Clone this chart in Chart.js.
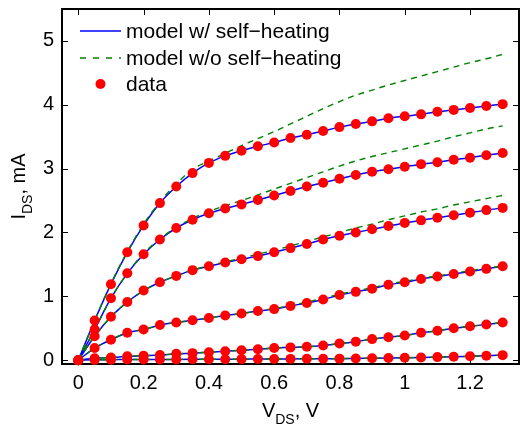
<!DOCTYPE html>
<html>
<head>
<meta charset="utf-8">
<script src="https://cdn.jsdelivr.net/npm/chart.js@4.4.1/dist/chart.umd.min.js"></script>
<style>
  html, body { margin: 0; padding: 0; background: #fff; overflow: hidden; }
  #wrap { width: 524px; height: 431px; }
</style>
</head>
<body>
<div id="wrap"><canvas id="ivChart" width="524" height="431"></canvas></div>
<script>
// Drain voltage sweep (V)
const vds = [0, 0.05, 0.1, 0.15, 0.2, 0.25, 0.3, 0.35, 0.4, 0.45, 0.5, 0.55, 0.6, 0.65,
             0.7, 0.75, 0.8, 0.85, 0.9, 0.95, 1.0, 1.05, 1.1, 1.15, 1.2, 1.25, 1.3];

// Measured drain current (mA), one array per gate bias, highest first
const meas1 = [0, 0.62, 1.19, 1.69, 2.11, 2.46, 2.72, 2.93, 3.09, 3.20, 3.28, 3.35, 3.41, 3.48,
               3.53, 3.59, 3.65, 3.70, 3.74, 3.79, 3.82, 3.85, 3.89, 3.92, 3.95, 3.98, 4.01];
const meas2 = [0, 0.48, 0.97, 1.36, 1.66, 1.89, 2.07, 2.20, 2.30, 2.375, 2.44, 2.51, 2.58, 2.65,
               2.72, 2.78, 2.84, 2.90, 2.95, 2.99, 3.03, 3.07, 3.10, 3.14, 3.17, 3.21, 3.245];
const meas3 = [0, 0.375, 0.68, 0.91, 1.09, 1.22, 1.32, 1.41, 1.47, 1.53, 1.58, 1.63, 1.69, 1.755,
               1.82, 1.89, 1.95, 2.00, 2.05, 2.10, 2.15, 2.19, 2.23, 2.27, 2.31, 2.35, 2.385];
const meas4 = [0, 0.19, 0.32, 0.43, 0.48, 0.55, 0.59, 0.625, 0.66, 0.70, 0.73, 0.77, 0.80, 0.85,
               0.895, 0.95, 1.02, 1.07, 1.12, 1.18, 1.22, 1.27, 1.31, 1.35, 1.39, 1.43, 1.47];
const meas5 = [0, 0.03, 0.04, 0.06, 0.07, 0.08, 0.10, 0.11, 0.125, 0.14, 0.155, 0.17, 0.19, 0.20,
               0.21, 0.23, 0.26, 0.29, 0.33, 0.36, 0.385, 0.43, 0.46, 0.50, 0.53, 0.56, 0.59];
const meas6 = [0, 0.005, 0.008, 0.01, 0.01, 0.011, 0.012, 0.013, 0.014, 0.015, 0.016, 0.017, 0.018, 0.02,
               0.021, 0.022, 0.024, 0.027, 0.03, 0.033, 0.037, 0.042, 0.048, 0.054, 0.062, 0.07, 0.079];

// Model with self-heating (follows the measurements)
const withSH = [meas1, meas2, meas3, meas4, meas5, meas6];

// Model without self-heating
const noSH1 = [0, 0.62, 1.20, 1.70, 2.13, 2.48, 2.76, 2.99, 3.12, 3.24, 3.36, 3.47, 3.58, 3.70,
               3.82, 3.94, 4.05, 4.15, 4.23, 4.31, 4.38, 4.45, 4.52, 4.59, 4.66, 4.72, 4.79];
const noSH2 = [0, 0.48, 0.97, 1.36, 1.67, 1.90, 2.08, 2.22, 2.33, 2.42, 2.50, 2.59, 2.68, 2.77,
               2.86, 2.95, 3.04, 3.12, 3.19, 3.25, 3.31, 3.37, 3.43, 3.50, 3.56, 3.62, 3.67];
const noSH3 = [0, 0.375, 0.68, 0.91, 1.09, 1.22, 1.32, 1.41, 1.48, 1.54, 1.60, 1.66, 1.72, 1.79,
               1.86, 1.93, 2.00, 2.07, 2.13, 2.20, 2.26, 2.32, 2.37, 2.43, 2.48, 2.53, 2.58];
const noSH4 = [0, 0.19, 0.32, 0.43, 0.48, 0.55, 0.59, 0.625, 0.66, 0.70, 0.73, 0.77, 0.81, 0.855,
               0.91, 0.97, 1.035, 1.085, 1.135, 1.19, 1.235, 1.28, 1.32, 1.36, 1.40, 1.44, 1.475];
const noSH5 = [0, 0.03, 0.04, 0.06, 0.07, 0.08, 0.10, 0.11, 0.125, 0.14, 0.155, 0.17, 0.19, 0.20,
               0.21, 0.23, 0.26, 0.29, 0.33, 0.36, 0.385, 0.43, 0.46, 0.50, 0.53, 0.56, 0.59];
const noSH6 = [0, 0.005, 0.008, 0.01, 0.01, 0.011, 0.012, 0.013, 0.014, 0.015, 0.016, 0.017, 0.018, 0.02,
               0.021, 0.022, 0.024, 0.027, 0.03, 0.033, 0.037, 0.042, 0.048, 0.054, 0.062, 0.07, 0.079];
const withoutSH = [noSH1, noSH2, noSH3, noSH4, noSH5, noSH6];
const measured = [meas1, meas2, meas3, meas4, meas5, meas6];

// Axis ticks
const xTicks = [0, 0.2, 0.4, 0.6, 0.8, 1, 1.2];
const yTicks = [0, 1, 2, 3, 4, 5];

const legendItems = ['model w/ self\u2212heating', 'model w/o self\u2212heating', 'data'];

const FONT = '"Liberation Sans", Arial, Helvetica, sans-serif';
const blue = '#0000ff';
const green = '#008000';
const red = '#ff0000';

const toPts = arr => arr.map((v, i) => ({ x: vds[i], y: v }));

const datasets = [];
measured.forEach(arr => datasets.push({
  data: toPts(arr), showLine: false, pointRadius: 5, pointBackgroundColor: red,
  pointBorderWidth: 0, order: 0, clip: false
}));
withoutSH.forEach(arr => datasets.push({
  data: toPts(arr), showLine: true, borderColor: green, borderWidth: 1.4,
  borderDash: [6, 5], pointRadius: 0, order: 1, cubicInterpolationMode: 'monotone'
}));
withSH.forEach(arr => datasets.push({
  data: toPts(arr), showLine: true, borderColor: blue, borderWidth: 1.5,
  pointRadius: 0, order: 2, cubicInterpolationMode: 'monotone'
}));

// box, inward ticks, legend and titles with subscripts
const axesDecor = {
  id: 'axesDecor',
  beforeDatasetsDraw(chart) {
    const { ctx, chartArea: a, scales } = chart;
    const tl = 6;
    ctx.save();
    ctx.strokeStyle = '#000';
    ctx.lineWidth = 1;
    ctx.beginPath();
    xTicks.forEach(v => {
      const px = Math.round(scales.x.getPixelForValue(v)) + 0.5;
      ctx.moveTo(px, a.bottom); ctx.lineTo(px, a.bottom - tl);
      ctx.moveTo(px, a.top); ctx.lineTo(px, a.top + tl);
    });
    yTicks.forEach(v => {
      const py = Math.round(scales.y.getPixelForValue(v)) + 0.5;
      ctx.moveTo(a.left, py); ctx.lineTo(a.left + tl, py);
      ctx.moveTo(a.right, py); ctx.lineTo(a.right - tl, py);
    });
    ctx.stroke();
    ctx.lineWidth = 2;
    ctx.strokeRect(a.left, a.top, a.right - a.left, a.bottom - a.top);
    ctx.restore();
  },
  afterDraw(chart) {
    const { ctx, chartArea: a } = chart;
    ctx.save();
    ctx.fillStyle = '#000';

    // legend
    const lx0 = a.left + 18, lx1 = a.left + 59, tx = a.left + 64;
    const rows = [a.top + 22, a.top + 49, a.top + 75];
    ctx.lineWidth = 1.4;
    ctx.strokeStyle = blue;
    ctx.beginPath(); ctx.moveTo(lx0, rows[0]); ctx.lineTo(lx1, rows[0]); ctx.stroke();
    ctx.strokeStyle = green;
    ctx.setLineDash([6, 7]);
    ctx.beginPath(); ctx.moveTo(lx0, rows[1]); ctx.lineTo(lx1, rows[1]); ctx.stroke();
    ctx.setLineDash([]);
    ctx.fillStyle = red;
    ctx.beginPath(); ctx.arc((lx0 + lx1) / 2, rows[2], 5, 0, Math.PI * 2); ctx.fill();
    ctx.fillStyle = '#000';
    ctx.font = '21px ' + FONT;
    ctx.textBaseline = 'middle';
    ctx.textAlign = 'left';
    legendItems.forEach((t, i) => ctx.fillText(t, tx, rows[i] + 1));

    // x title: V_DS, V
    ctx.textBaseline = 'alphabetic';
    const big = '20px ' + FONT, sub = '14px ' + FONT;
    ctx.font = big; const w1 = ctx.measureText('V').width; const w3 = ctx.measureText(', V').width;
    ctx.font = sub; const w2 = ctx.measureText('DS').width;
    let x = (a.left + a.right) / 2 - (w1 + w2 + w3) / 2;
    const by = 417;
    ctx.font = big; ctx.fillText('V', x, by); x += w1;
    ctx.font = sub; ctx.fillText('DS', x, by + 7); x += w2;
    ctx.font = big; ctx.fillText(', V', x, by);

    // y title: I_DS, mA (rotated)
    ctx.translate(25, (a.top + a.bottom) / 2);
    ctx.rotate(-Math.PI / 2);
    ctx.font = big; const v1 = ctx.measureText('I').width; const v3 = ctx.measureText(', mA').width;
    ctx.font = sub; const v2 = ctx.measureText('DS').width;
    let y = -(v1 + v2 + v3) / 2;
    ctx.font = big; ctx.fillText('I', y, 0); y += v1;
    ctx.font = sub; ctx.fillText('DS', y, 7); y += v2;
    ctx.font = big; ctx.fillText(', mA', y, 0);
    ctx.restore();
  }
};

const noPad = s => { s.paddingTop = 0; s.paddingBottom = 0; s.paddingLeft = 0; s.paddingRight = 0; };

new Chart(document.getElementById('ivChart'), {
  type: 'scatter',
  data: { datasets },
  options: {
    responsive: false,
    animation: false,
    devicePixelRatio: 1,
    layout: { padding: { top: 9, right: 2, left: 0, bottom: 0 } },
    plugins: { legend: { display: false }, tooltip: { enabled: false } },
    scales: {
      x: {
        type: 'linear', min: -0.05, max: 1.35,
        afterBuildTicks: s => { s.ticks = xTicks.map(v => ({ value: v })); },
        afterFit: s => { s.height = 67; noPad(s); },
        grid: { display: false, drawTicks: false },
        border: { display: false },
        ticks: { color: '#000', font: { size: 20, family: FONT }, padding: 7, maxRotation: 0,
                 callback: v => String(v) }
      },
      y: {
        type: 'linear', min: -0.06, max: 5.5,
        afterBuildTicks: s => { s.ticks = yTicks.map(v => ({ value: v })); },
        afterFit: s => { s.width = 62; noPad(s); },
        grid: { display: false, drawTicks: false },
        border: { display: false },
        ticks: { color: '#000', font: { size: 20, family: FONT }, padding: 8,
                 callback: v => String(v) }
      }
    }
  },
  plugins: [axesDecor]
});
</script>
</body>
</html>
